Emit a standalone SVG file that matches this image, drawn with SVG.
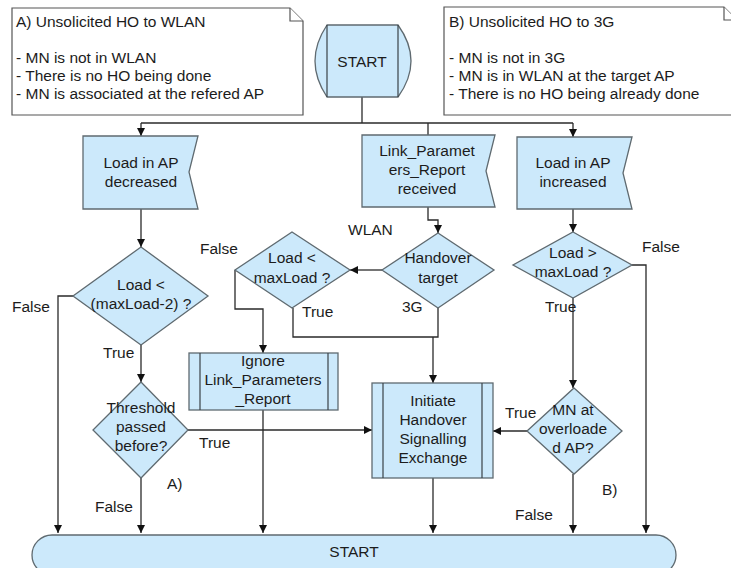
<svg xmlns="http://www.w3.org/2000/svg" width="731" height="568" viewBox="0 0 731 568">
  <defs>
    <marker id="arrow" markerWidth="8" markerHeight="8" refX="8" refY="4" orient="auto" markerUnits="userSpaceOnUse">
      <path d="M0,0 L8,4 L0,8 Z" fill="#111"/>
    </marker>
    <style>
      text { font-family: "Liberation Sans", Arial, sans-serif; font-size: 15.5px; fill: #1c1c1c; }
      .c { text-anchor: middle; }
      .shape { fill: #cce9fb; stroke: #5f6a70; stroke-width: 1.3; }
      .note { fill: #ffffff; stroke: #555; stroke-width: 1.2; }
      .inner { fill: none; stroke: #3a4348; stroke-width: 1.2; }
      .wire { fill: none; stroke: #2a2a2a; stroke-width: 1.3; }
      .arr { marker-end: url(#arrow); }
    </style>
  </defs>

  <rect width="731" height="568" fill="#ffffff"/>

  <!-- precondition notes -->
  <g id="note-a">
    <path class="note" d="M12,8 H290 L303,21 V115 H12 Z"/>
    <path class="note" d="M290,8 V21 H303" fill="none"/>
    <text x="16" y="27">A) Unsolicited HO to WLAN</text>
    <text x="16" y="63">- MN is not in WLAN</text>
    <text x="16" y="81">- There is no HO being done</text>
    <text x="16" y="99">- MN is associated at the refered AP</text>
  </g>
  <g id="note-b">
    <path class="note" d="M444,7 H724 L737,20 V115 H444 Z"/>
    <path class="note" d="M724,7 V20 H737" fill="none"/>
    <text x="449" y="27">B) Unsolicited HO to 3G</text>
    <text x="449" y="63">- MN is not in 3G</text>
    <text x="449" y="81">- MN is in WLAN at the target AP</text>
    <text x="449" y="99">- There is no HO being already done</text>
  </g>

  <!-- connectors -->
  <g id="connectors">
    <path class="wire" d="M362,97 V123"/>
    <path class="wire" d="M141,123 H573"/>
    <path class="wire arr" d="M141,123 V136"/>
    <path class="wire arr" d="M573,123 V137"/>
    <path class="wire" d="M428,123 V135"/>
    <path class="wire arr" d="M141,209 V247"/>
    <path class="wire arr" d="M428,207 V220 H438 V233"/>
    <path class="wire arr" d="M573,209 V232"/>
    <path class="wire arr" d="M382,270 H350"/>
    <path class="wire arr" d="M235,270 V309 H263 V353"/>
    <path class="wire" d="M293,308 V337 H438 V308"/>
    <path class="wire arr" d="M433,337 V383"/>
    <path class="wire arr" d="M73,296 H58 V533"/>
    <path class="wire arr" d="M141,345 V382"/>
    <path class="wire arr" d="M188,430 H372"/>
    <path class="wire arr" d="M141,478 V533"/>
    <path class="wire arr" d="M263,410 V533"/>
    <path class="wire arr" d="M433,478 V533"/>
    <path class="wire arr" d="M632,265 H646 V533"/>
    <path class="wire arr" d="M573,298 V388"/>
    <path class="wire arr" d="M527,431 H493"/>
    <path class="wire arr" d="M573,474 V533"/>
  </g>

  <!-- connector labels -->
  <g id="labels">
    <text x="348" y="235">WLAN</text>
    <text x="200" y="254">False</text>
    <text x="302" y="317">True</text>
    <text x="402" y="312">3G</text>
    <text x="12" y="312">False</text>
    <text x="103" y="358">True</text>
    <text x="199" y="448">True</text>
    <text x="167" y="489">A)</text>
    <text x="95" y="512">False</text>
    <text x="642" y="252">False</text>
    <text x="545" y="312">True</text>
    <text x="505" y="418">True</text>
    <text x="602" y="495">B)</text>
    <text x="515" y="520">False</text>
  </g>

  <!-- nodes -->
  <g id="start-top">
    <path class="shape" d="M327,25 H398 Q424,61 398,97 H327 Q303,61 327,25 Z"/>
    <path class="inner" d="M327,25 V97 M398,25 V97"/>
    <text class="c" x="362" y="67">START</text>
  </g>

  <g id="load-decreased">
    <path class="shape" d="M83,136 H198 L189,172 L198,209 H83 Z"/>
    <text class="c" x="141" y="168">Load in AP</text>
    <text class="c" x="141" y="187">decreased</text>
  </g>

  <g id="link-report">
    <path class="shape" d="M362,135 H495 L486,171 L495,207 H362 Z"/>
    <text class="c" x="427" y="156">Link_Paramet</text>
    <text class="c" x="427" y="175">ers_Report</text>
    <text class="c" x="427" y="194">received</text>
  </g>

  <g id="load-increased">
    <path class="shape" d="M517,137 H632 L623,173 L632,209 H517 Z"/>
    <text class="c" x="573" y="168">Load in AP</text>
    <text class="c" x="573" y="187">increased</text>
  </g>

  <g id="check-below">
    <path class="shape" d="M141,247 L208,296 L141,345 L73,296 Z"/>
    <text class="c" x="141" y="290">Load &lt;</text>
    <text class="c" x="141" y="309">(maxLoad-2) ?</text>
  </g>

  <g id="handover-target">
    <path class="shape" d="M438,233 L494,270 L438,308 L382,270 Z"/>
    <text class="c" x="438" y="263">Handover</text>
    <text class="c" x="438" y="283">target</text>
  </g>

  <g id="check-wlan">
    <path class="shape" d="M292,232 L350,270 L292,308 L235,270 Z"/>
    <text class="c" x="292" y="263">Load &lt;</text>
    <text class="c" x="292" y="283">maxLoad ?</text>
  </g>

  <g id="check-above">
    <path class="shape" d="M573,232 L632,265 L573,298 L513,265 Z"/>
    <text class="c" x="573" y="258">Load &gt;</text>
    <text class="c" x="573" y="277">maxLoad ?</text>
  </g>

  <g id="ignore-report">
    <rect class="shape" x="189" y="353" width="149" height="57"/>
    <path class="inner" d="M200,353 V410 M328,353 V410"/>
    <text class="c" x="263" y="366">Ignore</text>
    <text class="c" x="263" y="385">Link_Parameters</text>
    <text class="c" x="263" y="404">_Report</text>
  </g>

  <g id="threshold">
    <path class="shape" d="M141,382 L188,430 L141,478 L93,430 Z"/>
    <text class="c" x="141" y="413">Threshold</text>
    <text class="c" x="141" y="432">passed</text>
    <text class="c" x="141" y="451">before?</text>
  </g>

  <g id="initiate-handover">
    <rect class="shape" x="372" y="383" width="121" height="95"/>
    <path class="inner" d="M383,383 V478 M482,383 V478"/>
    <text class="c" x="433" y="406">Initiate</text>
    <text class="c" x="433" y="425">Handover</text>
    <text class="c" x="433" y="444">Signalling</text>
    <text class="c" x="433" y="463">Exchange</text>
  </g>

  <g id="overloaded">
    <path class="shape" d="M574,388 L622,431 L574,474 L527,431 Z"/>
    <text class="c" x="573" y="415">MN at</text>
    <text class="c" x="573" y="434">overloade</text>
    <text class="c" x="573" y="453">d AP?</text>
  </g>

  <g id="start-bottom">
    <rect class="shape" x="32" y="535" width="644" height="40" rx="20" ry="20"/>
    <text class="c" x="354" y="557">START</text>
  </g>
</svg>
